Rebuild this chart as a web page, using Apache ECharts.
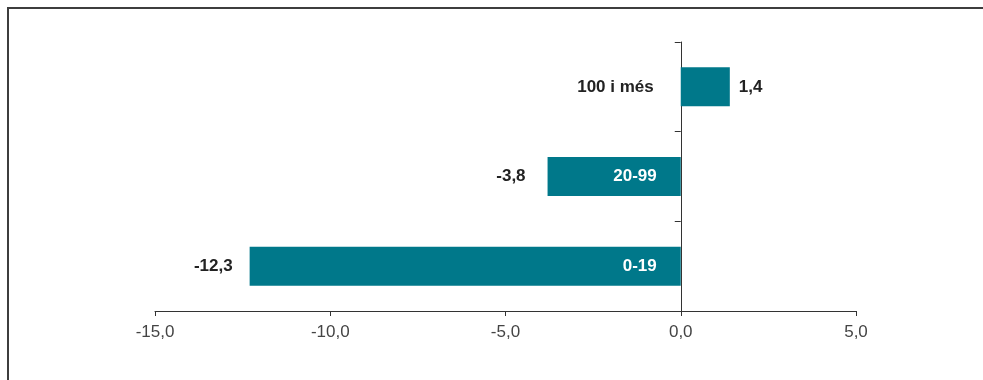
<!DOCTYPE html>
<html>
<head>
<meta charset="utf-8">
<script src="https://cdn.jsdelivr.net/npm/echarts@6/dist/echarts.min.js"></script>
<style>
  html, body { margin: 0; padding: 0; background: #fff; }
  #chart { width: 983px; height: 380px; }
</style>
</head>
<body>
<div id="chart"></div>
<script>
// Size bands (bottom to top) and the change for each
const categories = ['0-19', '20-99', '100 i més'];
const values = [-12.3, -3.8, 1.4];
// Value axis range and step
const axisMin = -15;
const axisMax = 5;
const axisStep = 5;

const FONT = '"Liberation Sans", Arial, Helvetica, sans-serif';
const TEAL = '#00788a';

const fmt = v => v.toFixed(1).replace('.', ',');

// Per-bar value-label placement: outside the end of each bar
const valueLabelDistance = [17, 22, 9];

const chart = echarts.init(document.getElementById('chart'), null, { renderer: 'canvas' });

chart.setOption({
  animation: false,
  backgroundColor: '#fff',
  grid: { left: 155, right: 127, top: 42, bottom: 69, containLabel: false },
  xAxis: {
    type: 'value',
    min: axisMin,
    max: axisMax,
    interval: axisStep,
    splitLine: { show: false },
    axisLine: { show: true, onZero: false, lineStyle: { color: '#333', width: 1 } },
    axisTick: { show: true, length: 5, lineStyle: { color: '#333', width: 1 } },
    axisLabel: {
      formatter: v => fmt(v),
      color: '#444',
      fontFamily: FONT,
      fontSize: 17,
      margin: 13
    }
  },
  yAxis: {
    type: 'category',
    data: categories,
    axisLine: { show: true, onZero: true, lineStyle: { color: '#333', width: 1 } },
    axisTick: { show: true, length: 6, lineStyle: { color: '#333', width: 1 } },
    axisLabel: { show: false }
  },
  series: [{
    // the bars with their values at the ends
    type: 'bar',
    barWidth: 39,
    itemStyle: { color: TEAL },
    data: values.map((v, i) => ({
      value: v,
      label: {
        show: true,
        position: v < 0 ? 'left' : 'right',
        distance: valueLabelDistance[i],
        formatter: p => fmt(p.value),
        fontFamily: FONT,
        fontSize: 17,
        fontWeight: 'bold',
        color: '#222'
      }
    }))
  }, {
    // category names beside the zero line: inside negative bars, left of the axis for positive ones
    type: 'bar',
    barWidth: 39,
    barGap: '-100%',
    silent: true,
    itemStyle: { color: 'rgba(0,0,0,0)' },
    data: values.map((v, i) => ({
      value: v,
      label: {
        show: true,
        position: v < 0 ? 'insideRight' : 'left',
        distance: v < 0 ? 24 : 27,
        formatter: () => categories[i],
        fontFamily: FONT,
        fontSize: 17,
        fontWeight: 'bold',
        color: v < 0 ? '#ffffff' : '#222222'
      }
    }))
  }],
  graphic: [{
    type: 'polyline',
    shape: { points: [[8, 380], [8, 8], [983, 8]] },
    style: { stroke: '#3d3d3d', lineWidth: 2, fill: null }
  }]
});
</script>
</body>
</html>
